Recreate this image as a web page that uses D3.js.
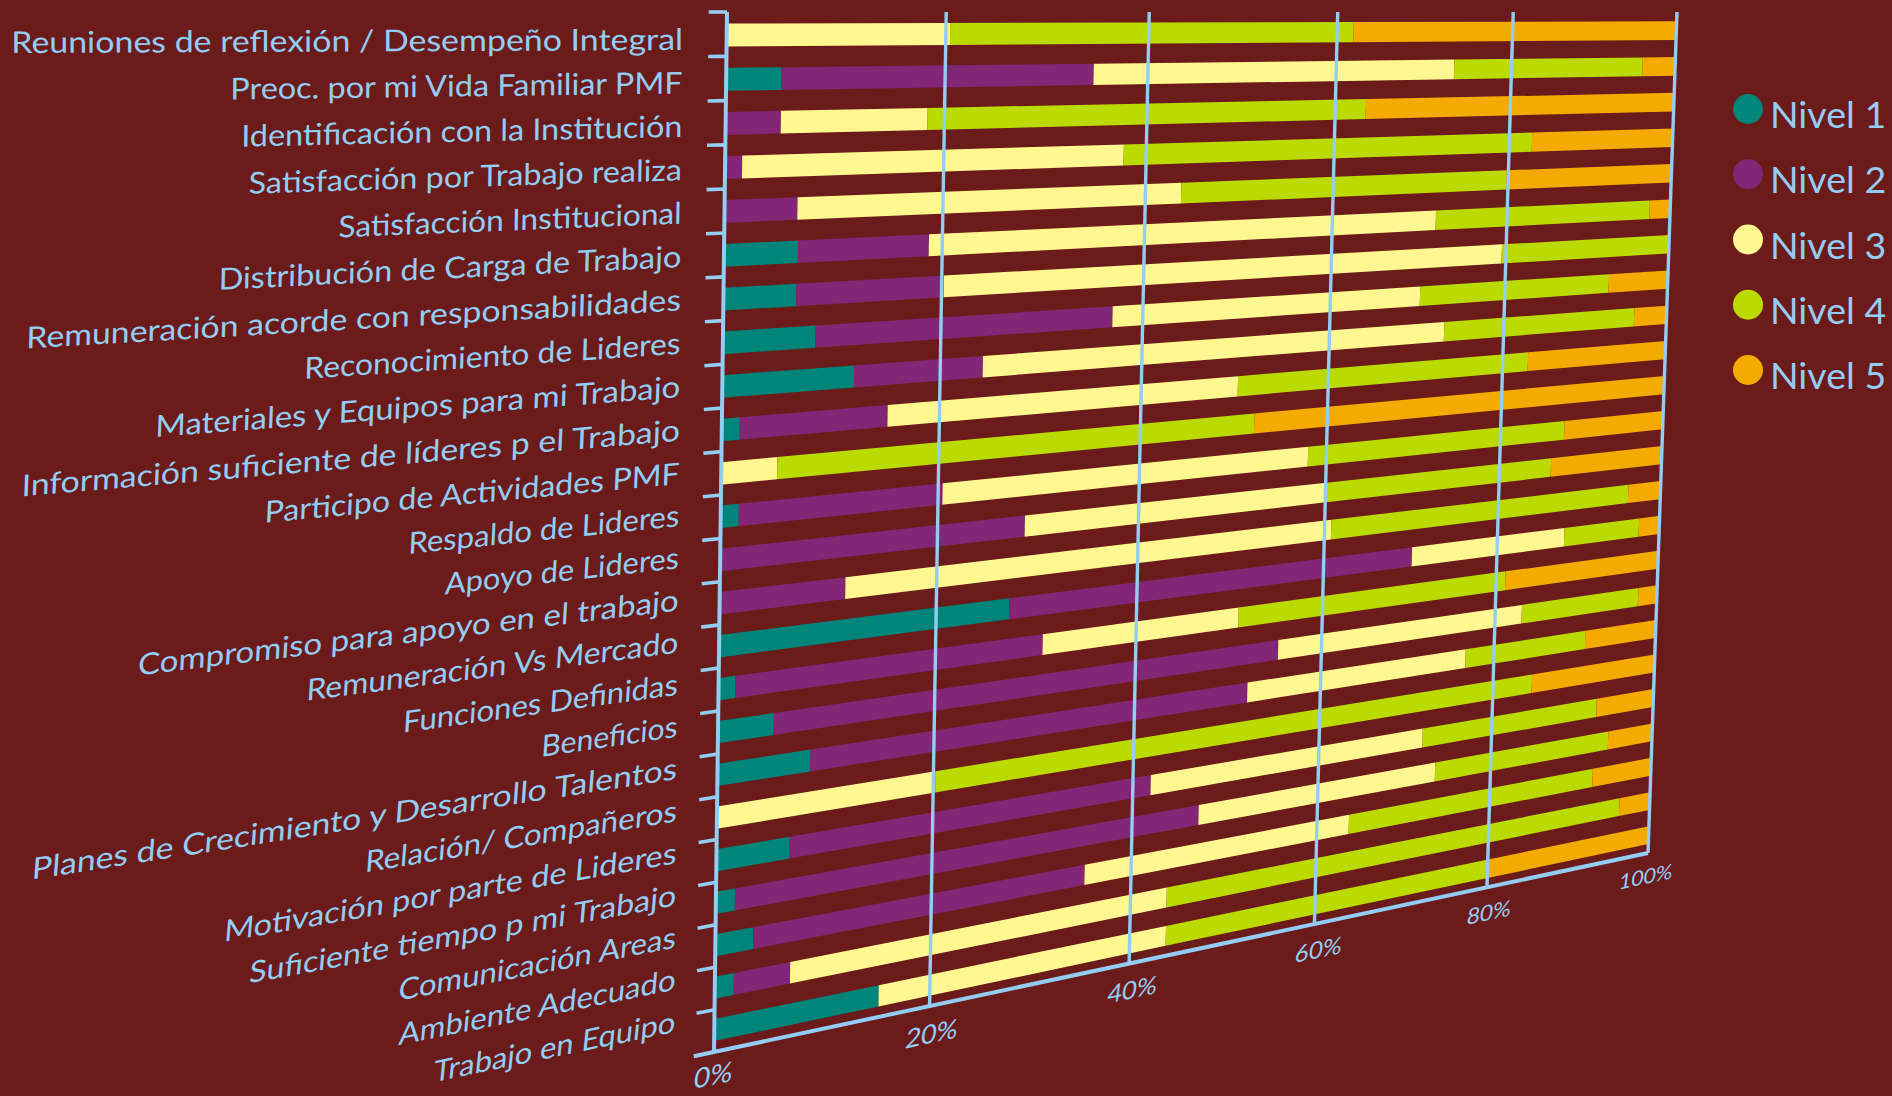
<!DOCTYPE html>
<html>
<head>
<meta charset="utf-8">
<script src="https://cdn.jsdelivr.net/npm/d3@7"></script>
<style>
  html, body { margin: 0; padding: 0; background: #6b1b1a; }
  svg { display: block; }
  text { font-family: Lato, "Noto Sans", sans-serif; fill: #93cdf4; }
</style>
</head>
<body>
<div id="chart"></div>
<script>
const categories = [
  "Reuniones de reflexión / Desempeño Integral", "Preoc. por mi Vida Familiar PMF",
  "Identificación con la Institución", "Satisfacción por Trabajo realiza",
  "Satisfacción Institucional", "Distribución de Carga de Trabajo",
  "Remuneración acorde con responsabilidades", "Reconocimiento de Lideres",
  "Materiales y Equipos para mi Trabajo", "Información suficiente de líderes p el Trabajo",
  "Participo de Actividades PMF", "Respaldo de Lideres", "Apoyo de Lideres",
  "Compromiso para apoyo en el trabajo", "Remuneración Vs Mercado", "Funciones Definidas",
  "Beneficios", "Planes de Crecimiento y Desarrollo Talentos", "Relación/ Compañeros",
  "Motivación por parte de Lideres", "Suficiente tiempo p mi Trabajo", "Comunicación Areas",
  "Ambiente Adecuado", "Trabajo en Equipo"
];
const nivel1 = [0, 4.9, 0, 0, 0, 6.6, 6.5, 8.3, 11.9, 1.6, 0, 1.6, 0, 0, 27.1, 1.5, 5, 8.4, 0, 6.6, 1.7, 3.4, 1.7, 15.1];
const nivel2 = [0, 29.6, 4.9, 1.5, 6.5, 12.1, 13.7, 28.6, 12.2, 13.5, 0, 18.8, 28.5, 11.4, 42.9, 29, 50.2, 43.6, 0, 35.3, 45.3, 31.8, 5.1, 0];
const nivel3 = [20.4, 38.8, 13.5, 36.2, 37.2, 52.9, 59.3, 33.2, 48.9, 35.1, 5, 37.5, 31.6, 49.4, 18.1, 20.3, 28, 24.7, 20.2, 30, 26.4, 28.4, 37, 28.7];
const nivel4 = [41.4, 22.6, 45, 45, 36.1, 25.7, 20.5, 22.5, 22.9, 32.9, 47, 29.7, 26.1, 35.2, 9.3, 30.3, 14.4, 14.5, 64.5, 21, 21, 29, 52.3, 36.1];
const nivel5 = [38.2, 4.1, 36.6, 17.3, 20.2, 2.6, 0, 7.4, 4.1, 17, 48, 12.3, 13.8, 4.1, 2.6, 18.9, 2.4, 8.9, 15.3, 7.2, 5.6, 7.4, 3.9, 20.1];
const levels = ["Nivel 1", "Nivel 2", "Nivel 3", "Nivel 4", "Nivel 5"];
const levelColors = ["#00857a", "#822675", "#fff890", "#bbda00", "#f3ab00"];
const xTicks = [0, 20, 40, 60, 80, 100];

const width = 1892;
const height = 1096;
const series = [nivel1, nivel2, nivel3, nivel4, nivel5];
const rows = categories.map((name, i) => {
  const row = { name };
  levels.forEach((l, j) => { row[l] = series[j][i]; });
  return row;
});

const svg = d3.select("#chart").append("svg")
  .attr("width", width)
  .attr("height", height);

const pctScale = d3.scaleLinear().domain([0, 1]).range([0, 1]);
const rowScale = d3.scaleBand().domain(categories).range([0, 1]).paddingInner(0.48).paddingOuter(0.26);
const color = d3.scaleOrdinal().domain(levels).range(levelColors);

// corners of the tilted plane
const topLeft = [727, 12], topRight = [1677, 12], bottomRight = [1648, 853], bottomLeft = [714, 1052];

function project(p, s) {
  const u = pctScale(p);
  const t = 1.2 * u / (1 + 0.2 * u);
  const v = 1.025 * s / (1 + 0.025 * s);
  const x0 = topLeft[0] + (topRight[0] - topLeft[0]) * t;
  const y0 = topLeft[1] + (topRight[1] - topLeft[1]) * t;
  const x1 = bottomLeft[0] + (bottomRight[0] - bottomLeft[0]) * t;
  const y1 = bottomLeft[1] + (bottomRight[1] - bottomLeft[1]) * t;
  return [x0 + (x1 - x0) * v, y0 + (y1 - y0) * v];
}

function slopeAt(s) {
  const a = project(0, s), b = project(1, s);
  return (b[1] - a[1]) / (b[0] - a[0]);
}

const stack = d3.stack().keys(levels).offset(d3.stackOffsetExpand);
const stackedData = stack(rows);
const line = d3.line();

// bars
svg.append("g").selectAll("g")
  .data(stackedData)
  .enter().append("g")
    .attr("fill", d => color(d.key))
  .selectAll("path")
  .data(d => d.filter(b => b[1] > b[0]))
  .enter().append("path")
    .attr("d", d => {
      const top = rowScale(d.data.name), bottom = top + rowScale.bandwidth();
      return line([project(d[0], top), project(d[1], top), project(d[1], bottom), project(d[0], bottom)]) + "Z";
    });

const axisColor = "#93cdf4";

// value gridlines
svg.append("g").selectAll("line")
  .data(xTicks)
  .enter().append("line")
    .attr("x1", d => project(d / 100, 0)[0])
    .attr("y1", d => project(d / 100, 0)[1])
    .attr("x2", d => project(d / 100, 1)[0])
    .attr("y2", d => project(d / 100, 1)[1])
    .attr("stroke", axisColor)
    .attr("stroke-width", d => d === 0 ? 4 : 3.4);

// bottom axis
svg.append("line")
  .attr("x1", project(-0.018, 1)[0])
  .attr("y1", project(-0.018, 1)[1])
  .attr("x2", project(1, 1)[0])
  .attr("y2", project(1, 1)[1])
  .attr("stroke", axisColor)
  .attr("stroke-width", 4);

// category ticks
svg.append("g").selectAll("line")
  .data(d3.range(24))
  .enter().append("line")
    .attr("x1", d => project(-0.016, d / 24)[0])
    .attr("y1", d => project(-0.016, d / 24)[1])
    .attr("x2", d => project(0, d / 24)[0])
    .attr("y2", d => project(0, d / 24)[1])
    .attr("stroke", axisColor)
    .attr("stroke-width", 3.6);

// category labels, longer ones stretch more towards the near side
const labelY = d3.scaleLinear().domain([0, 10, 23]).range([50, 484, 1032]);
const labelX = d3.scaleLinear().domain([0, 23]).range([683, 674.5]);
svg.append("g").selectAll("text")
  .data(categories)
  .enter().append("text")
    .attr("text-anchor", "end")
    .attr("font-size", 30)
    .text(d => d)
    .attr("transform", function(d, i) {
      const s = i / 23;
      const k = slopeAt((i + 0.5) / 24);
      const sx = 1 + 0.000282 * (this.getComputedTextLength() - 133);
      return `matrix(${sx},${sx * k},${-0.1 * s},1,${labelX(i)},${labelY(i)})`;
    });

// value tick labels
const tickSize = d3.scaleLinear().domain([0, 100]).range([28, 21]);
const tickShiftX = d3.scaleOrdinal().domain(xTicks).range([-2, 1, 2, 3, 1, -3]);
const tickShiftY = d3.scaleOrdinal().domain(xTicks).range([33, 37, 35, 34, 33, 31]);
svg.append("g").selectAll("text")
  .data(xTicks)
  .enter().append("text")
    .attr("text-anchor", "middle")
    .attr("font-size", d => tickSize(d))
    .attr("transform", d => {
      const p = project(d / 100, 1);
      const k = slopeAt(1);
      return `matrix(1,${k},-0.14,1,${p[0] + tickShiftX(d)},${p[1] + tickShiftY(d)})`;
    })
    .text(d => d + "%");

// legend
const legendY = d3.scalePoint().domain(levels).range([109, 370]);
const legend = svg.append("g").selectAll("g")
  .data(levels)
  .enter().append("g")
    .attr("transform", d => `translate(1748, ${legendY(d)})`);
legend.append("circle")
  .attr("r", 15)
  .attr("fill", d => color(d));
legend.append("text")
  .attr("x", 22)
  .attr("y", 19)
  .attr("font-size", 37.5)
  .text(d => d);
</script>
</body>
</html>
